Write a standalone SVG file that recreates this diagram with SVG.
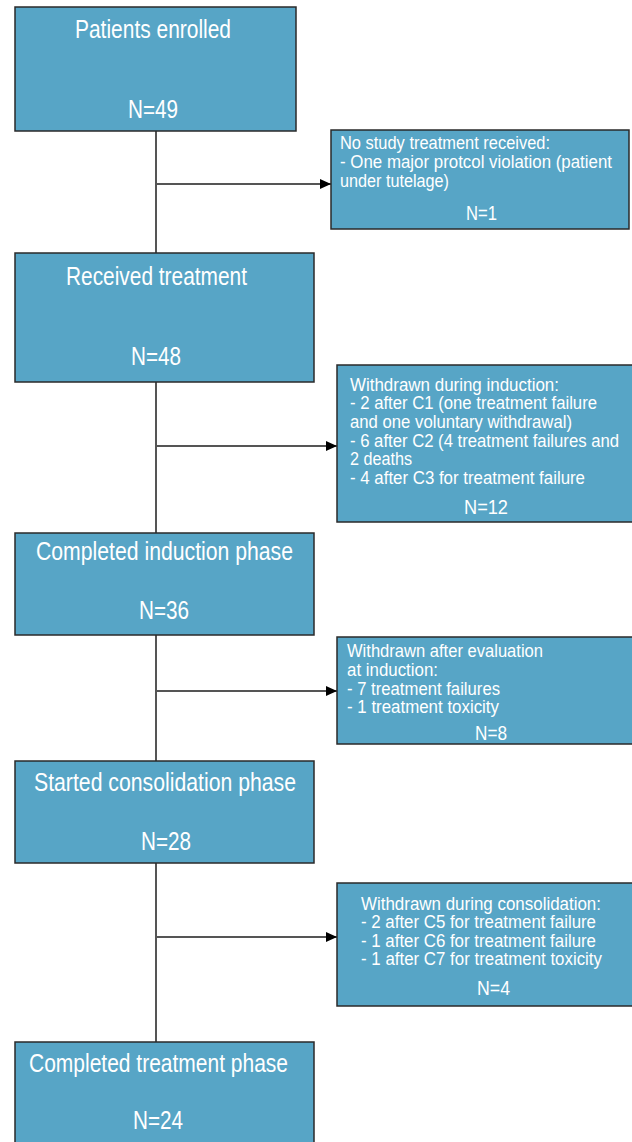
<svg xmlns="http://www.w3.org/2000/svg" width="632" height="1142" viewBox="0 0 632 1142">
<style>
.box{fill:#57a5c6;stroke:#2a2a2a;stroke-width:1.5}
.t{font-family:"Liberation Sans",Arial,sans-serif;fill:#ffffff;font-size:25px}
.s{font-family:"Liberation Sans",Arial,sans-serif;fill:#ffffff;font-size:17.5px}
.n{font-family:"Liberation Sans",Arial,sans-serif;fill:#ffffff;font-size:20.5px}
.ln{stroke:#555555;stroke-width:2;fill:none}
</style>
<defs>
<marker id="ah" markerWidth="12" markerHeight="10" refX="11" refY="5" orient="auto" markerUnits="userSpaceOnUse">
<path d="M0,0 L11,5 L0,10 Z" fill="#000"/>
</marker>
</defs>
<rect width="632" height="1142" fill="#ffffff"/>
<g id="connectors">
<line class="ln" x1="156" y1="131" x2="156" y2="253"/>
<line class="ln" x1="156" y1="382" x2="156" y2="533"/>
<line class="ln" x1="156" y1="635" x2="156" y2="761"/>
<line class="ln" x1="156" y1="863" x2="156" y2="1042"/>
<line class="ln" x1="156" y1="184" x2="331" y2="184" marker-end="url(#ah)"/>
<line class="ln" x1="156" y1="446" x2="337" y2="446" marker-end="url(#ah)"/>
<line class="ln" x1="156" y1="691" x2="337" y2="691" marker-end="url(#ah)"/>
<line class="ln" x1="156" y1="937" x2="337" y2="937" marker-end="url(#ah)"/>
</g>
<g id="n1">
<rect class="box" x="15" y="7" width="281" height="124"/>
<text class="t" x="75" y="38" textLength="156" lengthAdjust="spacingAndGlyphs">Patients enrolled</text>
<text class="t" x="128" y="118" textLength="50" lengthAdjust="spacingAndGlyphs">N=49</text>
</g>
<g id="s1">
<rect class="box" x="331" y="130" width="298" height="99"/>
<text class="s" x="340" y="149" textLength="210" lengthAdjust="spacingAndGlyphs">No study treatment received:</text>
<text class="s" x="340" y="168" textLength="272" lengthAdjust="spacingAndGlyphs">- One major protcol violation (patient</text>
<text class="s" x="340" y="187" textLength="109" lengthAdjust="spacingAndGlyphs">under tutelage)</text>
<text class="n" x="466" y="220" textLength="31" lengthAdjust="spacingAndGlyphs">N=1</text>
</g>
<g id="n2">
<rect class="box" x="15" y="253" width="299" height="129"/>
<text class="t" x="66" y="285" textLength="181" lengthAdjust="spacingAndGlyphs">Received treatment</text>
<text class="t" x="131" y="365" textLength="50" lengthAdjust="spacingAndGlyphs">N=48</text>
</g>
<g id="s2">
<rect class="box" x="337" y="365" width="300" height="157"/>
<text class="s" x="350" y="391" textLength="209" lengthAdjust="spacingAndGlyphs">Withdrawn during induction:</text>
<text class="s" x="350" y="409" textLength="247" lengthAdjust="spacingAndGlyphs">- 2 after C1 (one treatment failure</text>
<text class="s" x="350" y="428" textLength="222" lengthAdjust="spacingAndGlyphs">and one voluntary withdrawal)</text>
<text class="s" x="350" y="447" textLength="269" lengthAdjust="spacingAndGlyphs">- 6 after C2 (4 treatment failures and</text>
<text class="s" x="350" y="465" textLength="62" lengthAdjust="spacingAndGlyphs">2 deaths</text>
<text class="s" x="350" y="484" textLength="235" lengthAdjust="spacingAndGlyphs">- 4 after C3 for treatment failure</text>
<text class="n" x="464" y="514" textLength="44" lengthAdjust="spacingAndGlyphs">N=12</text>
</g>
<g id="n3">
<rect class="box" x="15" y="533" width="299" height="102"/>
<text class="t" x="36" y="560" textLength="257" lengthAdjust="spacingAndGlyphs">Completed induction phase</text>
<text class="t" x="139" y="619" textLength="50" lengthAdjust="spacingAndGlyphs">N=36</text>
</g>
<g id="s3">
<rect class="box" x="337" y="637" width="300" height="107"/>
<text class="s" x="347" y="657" textLength="196" lengthAdjust="spacingAndGlyphs">Withdrawn after evaluation</text>
<text class="s" x="347" y="676" textLength="91" lengthAdjust="spacingAndGlyphs">at induction:</text>
<text class="s" x="347" y="695" textLength="153" lengthAdjust="spacingAndGlyphs">- 7 treatment failures</text>
<text class="s" x="347" y="713" textLength="152" lengthAdjust="spacingAndGlyphs">- 1 treatment toxicity</text>
<text class="n" x="475" y="740" textLength="32" lengthAdjust="spacingAndGlyphs">N=8</text>
</g>
<g id="n4">
<rect class="box" x="15" y="761" width="299" height="102"/>
<text class="t" x="34" y="791" textLength="262" lengthAdjust="spacingAndGlyphs">Started consolidation phase</text>
<text class="t" x="141" y="850" textLength="50" lengthAdjust="spacingAndGlyphs">N=28</text>
</g>
<g id="s4">
<rect class="box" x="337" y="883" width="300" height="123"/>
<text class="s" x="361" y="910" textLength="240" lengthAdjust="spacingAndGlyphs">Withdrawn during consolidation:</text>
<text class="s" x="361" y="928" textLength="235" lengthAdjust="spacingAndGlyphs">- 2 after C5 for treatment failure</text>
<text class="s" x="361" y="947" textLength="235" lengthAdjust="spacingAndGlyphs">- 1 after C6 for treatment failure</text>
<text class="s" x="361" y="965" textLength="241" lengthAdjust="spacingAndGlyphs">- 1 after C7 for treatment toxicity</text>
<text class="n" x="477" y="995" textLength="33" lengthAdjust="spacingAndGlyphs">N=4</text>
</g>
<g id="n5">
<rect class="box" x="15" y="1042" width="299" height="110"/>
<text class="t" x="29" y="1072" textLength="259" lengthAdjust="spacingAndGlyphs">Completed treatment phase</text>
<text class="t" x="133" y="1129" textLength="50" lengthAdjust="spacingAndGlyphs">N=24</text>
</g>
</svg>
